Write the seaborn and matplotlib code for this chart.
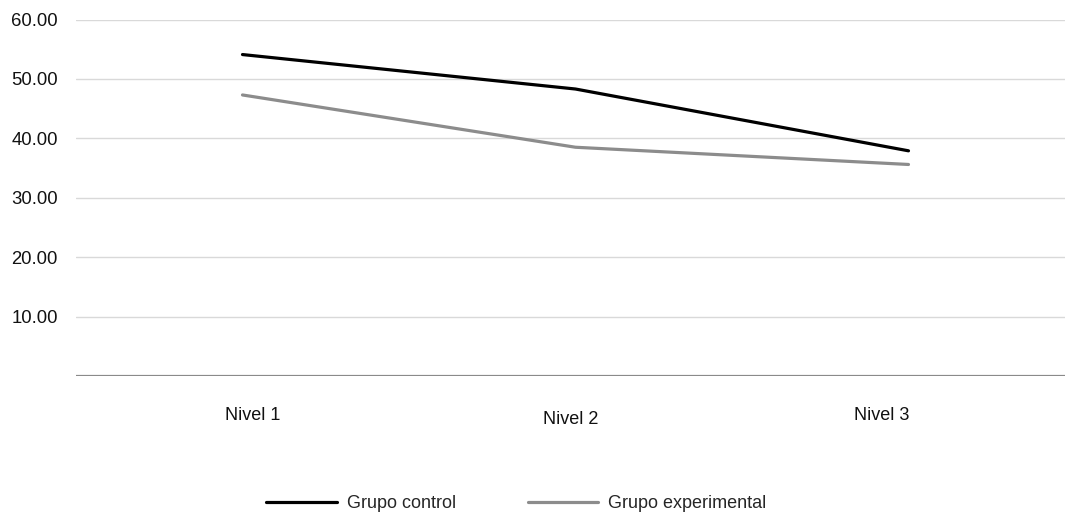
import pandas as pd
import seaborn as sns
import matplotlib.pyplot as plt
from matplotlib.transforms import ScaledTranslation

niveles = ["Nivel 1", "Nivel 2", "Nivel 3"]
grupo_control = [54.1, 48.3, 37.9]
grupo_experimental = [47.3, 38.5, 35.6]
series_names = ["Grupo control", "Grupo experimental"]
y_ticks = [10, 20, 30, 40, 50, 60]

df = pd.DataFrame({
    "Nivel": niveles * 2,
    "Valor": grupo_control + grupo_experimental,
    "Grupo": [series_names[0]] * 3 + [series_names[1]] * 3,
})

sns.set_theme(style="white")
plt.rcParams['font.family'] = ['Liberation Sans', 'DejaVu Sans']

fig = plt.figure(figsize=(10.65, 5.12), dpi=100)
ax = fig.add_axes([76 / 1065, 1 - 376 / 512, 1 - 76 / 1065, (376 - 19.5) / 512])

sns.lineplot(
    data=df, x="Nivel", y="Valor", hue="Grupo", ax=ax,
    palette={series_names[0]: "#000000", series_names[1]: "#8c8c8c"},
    linewidth=2.3, sort=False, legend=False,
)

ax.set_ylim(0, 60)
ax.set_xlim(-0.5, 2.47)
ax.set_yticks(y_ticks)
ax.set_yticklabels([f"{v:.2f}" for v in y_ticks], fontsize=13.3, color="#111111")
ax.tick_params(axis="y", length=0, pad=13)
ax.tick_params(axis="x", length=0, pad=22, labelsize=13, colors="#111111")
for v in y_ticks:
    ax.axhline(v, color="#d9d9d9", linewidth=1.0, zorder=0)
ax.axhline(0, color="#8a8a8a", linewidth=1.6, zorder=1)
for s in ax.spines.values():
    s.set_visible(False)
ax.set_xlabel("")
ax.set_ylabel("")

# small individual offsets of the category labels (in points)
offsets = [(7, 0), (-3.5, -3.5), (-19, 0)]
for lbl, (dx, dy) in zip(ax.get_xticklabels(), offsets):
    lbl.set_transform(lbl.get_transform() + ScaledTranslation(dx / 72, dy / 72, fig.dpi_scale_trans))

handles = [plt.Line2D([], [], color="#000000", linewidth=2.3),
           plt.Line2D([], [], color="#8c8c8c", linewidth=2.3)]
fig.legend(handles, series_names, loc="center", bbox_to_anchor=(516.5 / 1065, 1 - 504 / 512),
           ncol=2, frameon=False, fontsize=13, handlelength=3.9, handletextpad=0.55,
           columnspacing=4.0)

fig.savefig("out.png", dpi=100)
